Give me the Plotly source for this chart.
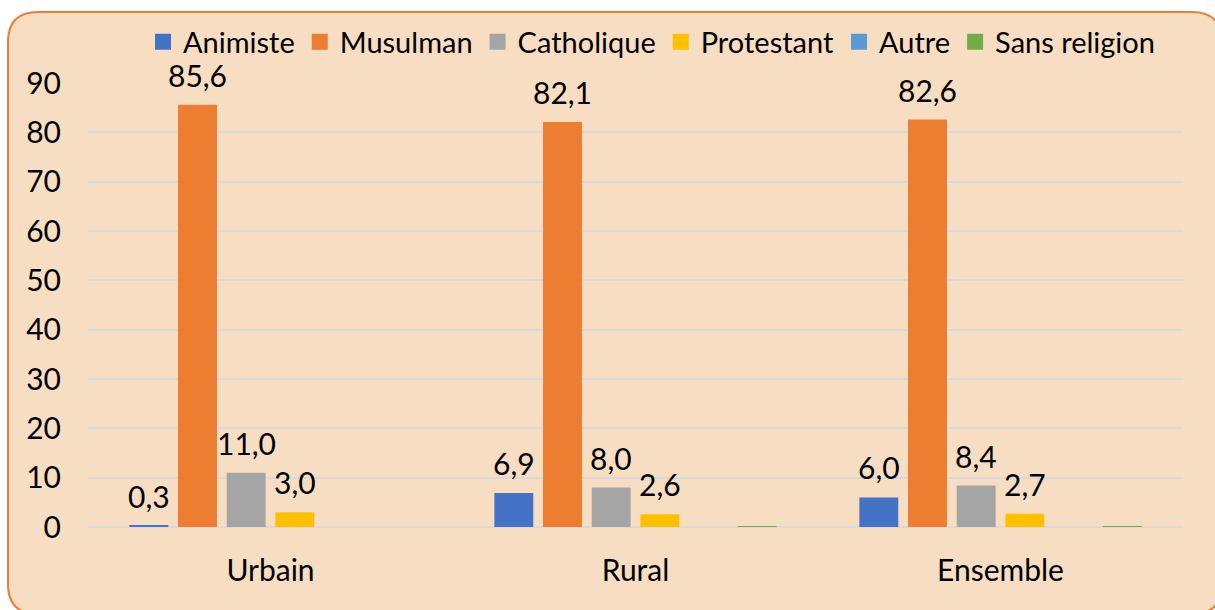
import plotly.graph_objects as go

categories = ["Urbain", "Rural", "Ensemble"]
series_names = ["Animiste", "Musulman", "Catholique", "Protestant", "Autre", "Sans religion"]
animiste = [0.3, 6.9, 6.0]
musulman = [85.6, 82.1, 82.6]
catholique = [11.0, 8.0, 8.4]
protestant = [3.0, 2.6, 2.7]
autre = [0.0, 0.0, 0.0]
sans_religion = [0.0, 0.2, 0.2]
y_ticks = [0, 10, 20, 30, 40, 50, 60, 70, 80, 90]

colors = ["#4472C4", "#ED7D31", "#A5A5A5", "#FFC000", "#5B9BD5", "#70AD47"]
values = [animiste, musulman, catholique, protestant, autre, sans_religion]
show_labels = [True, True, True, True, False, False]

FONT = "Lato, 'Open Sans', sans-serif"
FS = 30
W, H = 1215, 610
L, R, T, B = 88, 32, 10, 83
pw, ph = W - L - R, H - T - B
plot_top_px = 83
ydom_top = (H - B - plot_top_px) / ph
BARGAP = 0.2
n_series = len(series_names)
slot_px = pw / len(categories) * (1 - BARGAP) / n_series

fig = go.Figure()
annotations = []
for i, (name, vals, col, lab) in enumerate(zip(series_names, values, colors, show_labels)):
    fig.add_trace(go.Bar(
        name=name, x=categories, y=vals, marker_color=col,
        marker_line_width=0, showlegend=False, legendgroup=name,
        cliponaxis=False,
    ))
    if lab:
        for c, v in zip(categories, vals):
            annotations.append(dict(
                x=c, y=v, xref="x", yref="y",
                text=f"{v:.1f}".replace(".", ","), showarrow=False,
                xanchor="center", yanchor="bottom",
                xshift=(i - (n_series - 1) / 2) * slot_px, yshift=11,
                borderpad=0,
                font=dict(size=30, color="black", family=FONT),
            ))
# legend entries with square swatches
for name, col in zip(series_names, colors):
    fig.add_trace(go.Scatter(
        name=name, x=[None], y=[None], mode="markers", legendgroup=name,
        marker=dict(symbol="square", size=17, color=col),
        showlegend=True,
    ))

def px_x(p):
    return (p - L) / pw

def px_y(p):
    return (H - B - p) / ph

# rounded border rectangle
x0, y0, x1, y1, r = 8, 12, 1222, 614, 30
pts = (
    f"M {px_x(x0 + r)},{px_y(y0)} L {px_x(x1 - r)},{px_y(y0)} "
    f"Q {px_x(x1)},{px_y(y0)} {px_x(x1)},{px_y(y0 + r)} "
    f"L {px_x(x1)},{px_y(y1 - r)} Q {px_x(x1)},{px_y(y1)} {px_x(x1 - r)},{px_y(y1)} "
    f"L {px_x(x0 + r)},{px_y(y1)} Q {px_x(x0)},{px_y(y1)} {px_x(x0)},{px_y(y1 - r)} "
    f"L {px_x(x0)},{px_y(y0 + r)} Q {px_x(x0)},{px_y(y0)} {px_x(x0 + r)},{px_y(y0)} Z"
)

fig.update_layout(
    width=W, height=H,
    margin=dict(l=L, r=R, t=T, b=B),
    paper_bgcolor="white",
    plot_bgcolor="rgba(0,0,0,0)",
    font=dict(family=FONT, size=FS, color="black"),
    barmode="group", bargap=BARGAP, bargroupgap=0.2,
    annotations=annotations,
    shapes=[dict(type="path", path=pts, xref="paper", yref="paper",
                 fillcolor="#F7DEC2", line=dict(color="#ED7D31", width=2),
                 layer="below")],
    legend=dict(orientation="h", x=px_x(143), y=px_y(42), xanchor="left",
                yanchor="middle", font=dict(size=29, family=FONT),
                bgcolor="rgba(0,0,0,0)", itemwidth=30, tracegroupgap=0),
    showlegend=True,
)
fig.update_yaxes(range=[0, 90], domain=[0, ydom_top], tickvals=y_ticks,
                 showgrid=True, automargin=False,
                 gridcolor="#D9D9D9", gridwidth=1.5, zeroline=True,
                 zerolinecolor="#D9D9D9", zerolinewidth=1.5,
                 ticks="", ticklabelstandoff=26, tickfont=dict(size=FS))
fig.update_xaxes(showline=False, ticks="", ticklabelstandoff=23,
                 automargin=False, tickfont=dict(size=FS))

fig.write_html("out.html", config={"displayModeBar": False},
               post_script="document.body.style.margin='0';")
